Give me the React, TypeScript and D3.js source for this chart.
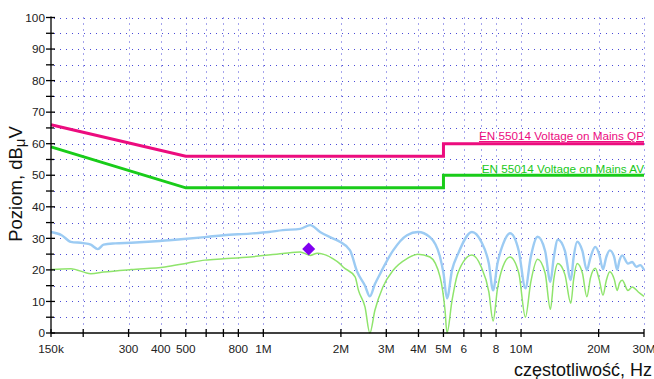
import React from "react";
import * as d3 from "d3";

const W = 654;
const H = 379;

const xTickValues = [150e3, 200e3, 300e3, 400e3, 500e3, 600e3, 700e3, 800e3, 1e6, 2e6, 3e6, 4e6, 5e6, 6e6, 7e6, 8e6, 10e6, 20e6, 30e6];
const xTickLabels = ["150k", "", "300", "400", "500", "", "", "800", "1M", "2M", "3M", "4M", "5M", "6", "", "8", "10M", "20M", "30M"];
const yMajorTicks = [0, 10, 20, 30, 40, 50, 60, 70, 80, 90, 100];
const yMinorTicks = [5, 15, 25, 35, 45, 55, 65, 75, 85, 95];

// Limit lines (frequency kHz, level dBµV)
const qpFreq = [150, 500, 5000, 5000, 30000];
const qpLevel = [66, 56, 56, 60, 60];
const avFreq = [150, 500, 5000, 5000, 30000];
const avLevel = [59, 46, 46, 50, 50];

// Peak measurement (blue)
const peakFreq = [150, 165, 179, 200, 214, 228, 240, 266, 307, 357, 415, 479, 594, 700, 888, 1050, 1190, 1390, 1520, 1660, 1860, 1980, 2170, 2310, 2480, 2590, 2710, 2840, 3190, 3610, 3980, 4430, 4850, 5000, 5160, 5400, 5690, 6450, 7000, 7500, 7790, 8100, 8500, 9060, 9800, 10400, 10900, 11600, 12400, 13000, 13400, 13900, 14800, 15600, 16000, 16500, 17300, 18000, 18600, 19400, 20100, 20800, 21400, 22100, 23000, 23600, 24100, 24700, 26000, 27000, 28000, 29000, 30000];
const peakLevel = [32, 31, 28.9, 28.5, 28, 26.6, 28, 28.4, 28.6, 28.9, 29.3, 29.7, 30.4, 31, 31.5, 32, 32.6, 33, 34.2, 32, 30, 28.9, 26.2, 19.5, 15, 11.6, 15.5, 18.8, 26.2, 31, 32, 30.4, 24.1, 19, 11, 20, 25, 32, 29, 22, 13.5, 22, 28, 31.6, 26, 14.2, 24, 30.5, 26, 16.2, 24, 29.6, 26, 16.8, 24, 28.9, 26, 19.9, 24, 27.3, 25, 20.2, 24, 26.2, 24, 20, 23, 24.6, 22, 22.5, 21, 21.5, 20];

// Average measurement (green)
const avgFreq = [150, 179, 214, 240, 307, 415, 510, 594, 700, 888, 1190, 1390, 1520, 1620, 1860, 1980, 2040, 2270, 2340, 2480, 2590, 2710, 2910, 3190, 3610, 3980, 4430, 4850, 5070, 5160, 5400, 5690, 6450, 7000, 7500, 7790, 8100, 8500, 9060, 9800, 10400, 10900, 11600, 12400, 13000, 13400, 13900, 14800, 15600, 16000, 16500, 17300, 18000, 18600, 19400, 20100, 20800, 21400, 22100, 23000, 23600, 24100, 24700, 26000, 27000, 28500, 30000];
const avgLevel = [20.1, 20.4, 18.8, 19.3, 20.1, 20.9, 22.2, 23.1, 23.5, 24.1, 25.2, 25.7, 24.6, 25.3, 23.6, 22, 20.9, 17.8, 13.5, 8.3, 0, 7.2, 14.6, 19.9, 23.6, 25, 24.1, 17.8, 7.2, 0, 10.4, 19, 24.7, 21, 13, 3.8, 14, 21, 24.1, 19, 5, 16, 23.4, 19, 7.5, 17, 22, 18.5, 9.4, 17, 22, 19, 11.5, 17.5, 20.5, 17, 12, 16.5, 19.4, 17, 13.5, 15.8, 16.7, 13.5, 14.6, 13, 11.6];

const markerFreq = [1500];
const markerLevel = [26.6];

const qpLabel = "EN 55014 Voltage on Mains QP";
const avLabel = "EN 55014 Voltage on Mains AV";

const FONT = "'Liberation Sans', Arial, Helvetica, sans-serif";

export default function App() {
  const x = d3.scaleLog().domain([150e3, 30e6]).range([51, 644]);
  const y = d3.scaleLinear().domain([0, 100]).range([333, 17.5]);

  const lin = d3
    .line<[number, number]>()
    .x((d) => x(d[0] * 1000))
    .y((d) => y(d[1]));
  const smooth = d3
    .line<[number, number]>()
    .x((d) => x(d[0] * 1000))
    .y((d) => y(d[1]))
    .curve(d3.curveMonotoneX);

  const zip = (a: number[], b: number[]) => a.map((v, i) => [v, b[i]] as [number, number]);

  const gridColor = "#4a4ad8";
  const x0 = x.range()[0];
  const x1 = x.range()[1];
  const yB = y(0);
  const yT = y(100);

  return (
    <svg
      width={W}
      height={H}
      style={{ position: "absolute", left: 0, top: 0, background: "#fff" }}
      fontFamily={FONT}
    >
      {/* grid */}
      <g stroke={gridColor} strokeWidth={1} strokeDasharray="1 5" fill="none">
        {[...yMajorTicks, ...yMinorTicks]
          .filter((v) => v > 0)
          .map((v) => (
            <line key={"h" + v} x1={x0 + 3} x2={x1} y1={Math.round(y(v)) + 0.5} y2={Math.round(y(v)) + 0.5} />
          ))}
        {xTickValues.slice(1).map((f) => (
          <line key={"v" + f} x1={Math.round(x(f)) + 0.5} x2={Math.round(x(f)) + 0.5} y1={yT} y2={yB - 3} />
        ))}
      </g>

      {/* limit labels */}
      <text x={644} y={140} textAnchor="end" fontSize={11.7} fill="#ec0c7e" textDecoration="underline">
        {qpLabel}
      </text>
      <text x={644} y={173} textAnchor="end" fontSize={11.7} fill="#19c819" textDecoration="underline">
        {avLabel}
      </text>

      {/* limit lines */}
      <path d={lin(zip(qpFreq, qpLevel)) || ""} fill="none" stroke="#ec0c7e" strokeWidth={3} />
      <path d={lin(zip(avFreq, avLevel)) || ""} fill="none" stroke="#19cc19" strokeWidth={3} />

      {/* measurements */}
      <path d={smooth(zip(peakFreq, peakLevel)) || ""} fill="none" stroke="#9ccbf3" strokeWidth={2.4} strokeLinejoin="round" />
      <path d={smooth(zip(avgFreq, avgLevel)) || ""} fill="none" stroke="#8fe46c" strokeWidth={1.5} strokeLinejoin="round" />

      {/* marker */}
      {markerFreq.map((f, i) => {
        const cx = x(f * 1000);
        const cy = y(markerLevel[i]);
        const s = 6.5;
        return (
          <path
            key={"m" + i}
            d={`M${cx},${cy - s}L${cx + s},${cy}L${cx},${cy + s}L${cx - s},${cy}Z`}
            fill="#8000f0"
          />
        );
      })}

      {/* axes */}
      <g stroke="#000" strokeWidth={1.3}>
        <line x1={x0} x2={x0} y1={yT - 1} y2={yB} />
        <line x1={x0} x2={x1} y1={yB} y2={yB} />
        {yMajorTicks.map((v) => (
          <line key={"ym" + v} x1={x0 - 5} x2={x0 + 4} y1={y(v)} y2={y(v)} />
        ))}
        {yMinorTicks.map((v) => (
          <line key={"yn" + v} x1={x0 - 5} x2={x0 + 3} y1={y(v)} y2={y(v)} />
        ))}
        {xTickValues.map((f) => (
          <line key={"xt" + f} x1={x(f)} x2={x(f)} y1={yB - 4} y2={yB + 4} />
        ))}
      </g>

      {/* tick labels */}
      <g fontSize={11.8} fill="#222">
        {yMajorTicks.map((v) => (
          <text key={"yl" + v} x={x0 - 6} y={y(v) + 4.2} textAnchor="end">
            {v}
          </text>
        ))}
        {xTickValues.map((f, i) =>
          xTickLabels[i] ? (
            <text key={"xl" + f} x={x(f)} y={353} textAnchor="middle">
              {xTickLabels[i]}
            </text>
          ) : null
        )}
      </g>

      {/* axis titles */}
      <text x={652} y={376} textAnchor="end" fontSize={18} fill="#111">
        częstotliwość, Hz
      </text>
      <text transform="translate(22,184) rotate(-90)" textAnchor="middle" fontSize={18.5} fill="#111">
        Poziom, dB
        <tspan fontSize={15} dy={3}>μ</tspan>
        <tspan dy={-3}>V</tspan>
      </text>
    </svg>
  );
}
